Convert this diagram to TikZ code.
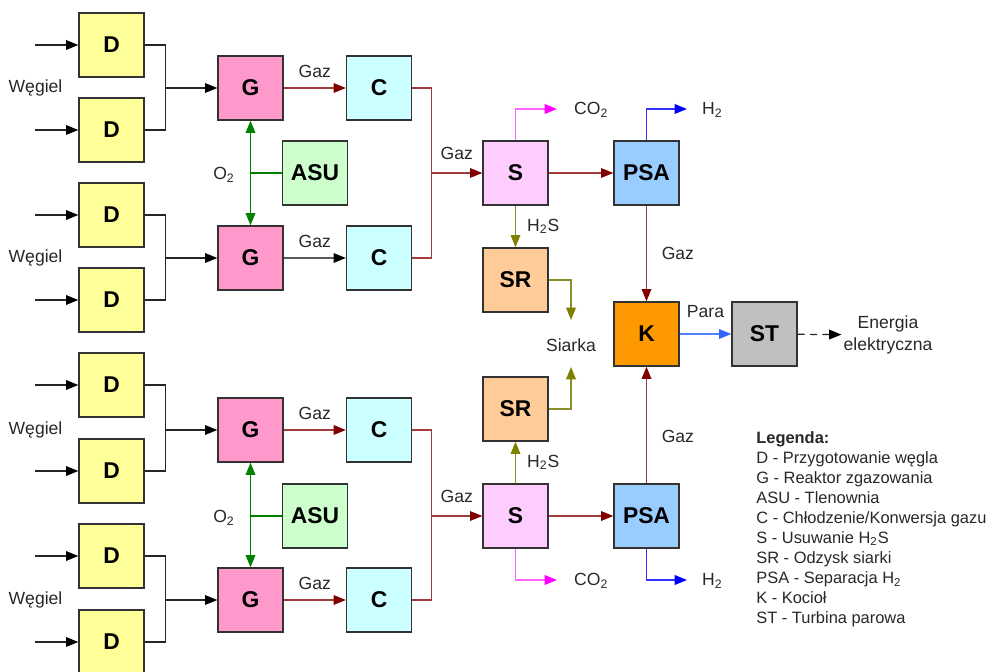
\documentclass[tikz,border=0pt]{standalone}
\usepackage{fontspec}
\setmainfont{Liberation Sans}
\usetikzlibrary{arrows.meta,calc}
\definecolor{dfill}{RGB}{255,255,153}
\definecolor{gfill}{RGB}{255,153,204}
\definecolor{cfill}{RGB}{204,255,255}
\definecolor{afill}{RGB}{204,255,204}
\definecolor{sfill}{RGB}{255,204,255}
\definecolor{rfill}{RGB}{255,204,153}
\definecolor{pfill}{RGB}{153,204,255}
\definecolor{kfill}{RGB}{255,153,0}
\definecolor{tfill}{RGB}{192,192,192}
\definecolor{gazline}{RGB}{160,60,60}
\definecolor{dred}{RGB}{128,0,0}
\definecolor{grn}{RGB}{0,128,0}
\definecolor{magl}{RGB}{255,102,255}
\definecolor{magh}{RGB}{255,0,255}
\definecolor{blul}{RGB}{51,51,255}
\definecolor{bluh}{RGB}{0,0,255}
\definecolor{olvl}{RGB}{140,140,40}
\definecolor{olvh}{RGB}{128,128,0}
\definecolor{parl}{RGB}{80,130,255}
\definecolor{parh}{RGB}{51,102,255}
\definecolor{txt}{RGB}{40,40,40}
\begin{document}
\begin{tikzpicture}[x=0.02cm,y=-0.02cm,
  box/.style={draw=black!80, line width=0.8pt, minimum width=1.3cm, minimum height=1.28cm, inner sep=0pt, font=\fontsize{13}{15}\selectfont\bfseries},
  lbl/.style={font=\fontsize{10}{12}\selectfont, text=txt},
  blkline/.style={draw=black!85, line width=0.7pt},
  blkarr/.style={blkline, -{Triangle[length=7pt,width=5.5pt,color=black]}},
  grayarr/.style={draw=black!65, line width=0.7pt, -{Triangle[length=7pt,width=5.5pt,color=black]}},
  gazl/.style={draw=gazline, line width=0.7pt},
  gazarr/.style={gazl, -{Triangle[length=7pt,width=5.5pt,color=dred]}},
  grnl/.style={draw=grn, line width=0.8pt},
  grnarr/.style={grnl, {Triangle[length=7pt,width=5.5pt,color=grn]}-{Triangle[length=7pt,width=5.5pt,color=grn]}},
  magarr/.style={draw=magl, line width=0.7pt, -{Triangle[length=7pt,width=5.5pt,color=magh]}},
  bluarr/.style={draw=blul, line width=0.7pt, -{Triangle[length=7pt,width=5.5pt,color=bluh]}},
  olvarr/.style={draw=olvl, line width=0.7pt, -{Triangle[length=7pt,width=5.5pt,color=olvh]}},
  pararr/.style={draw=parl, line width=0.7pt, -{Triangle[length=7pt,width=5.5pt,color=parh]}},
  dasharr/.style={draw=black!85, line width=0.7pt, dash pattern=on 4pt off 3pt, -{Triangle[length=7pt,width=5.5pt,color=black]}}
]
\useasboundingbox (0,0) rectangle (990,672);
\clip (0,0) rectangle (990,672);
\fill[white] (0,0) rectangle (990,672);

% D boxes with coal inputs
\foreach \i/\y in {1/45,2/130,3/215,4/300,5/385,6/471,7/556,8/642}{
  \node[box, fill=dfill] (d\i) at (111.5,\y) {D};
  \draw[blkarr] ([xshift=-0.86cm]d\i.west) -- (d\i.west);
}
% G, C, ASU boxes
\foreach \i/\y in {1/88,2/258,3/430,4/600}{
  \node[box, fill=gfill] (g\i) at (250.5,\y) {G};
  \node[box, fill=cfill] (c\i) at (379,\y) {C};
}
\foreach \i/\y in {1/173,2/516}{
  \node[box, fill=afill] (a\i) at (315,\y) {ASU};
  \node[box, fill=sfill] (s\i) at (515.5,\y) {S};
  \node[box, fill=pfill] (p\i) at (646.5,\y) {PSA};
}
\node[box, fill=rfill] (r1) at (515.5,280) {SR};
\node[box, fill=rfill] (r2) at (515.5,409) {SR};
\node[box, fill=kfill] (k) at (646.5,334) {K};
\node[box, fill=tfill] (st) at (764.5,334) {ST};

% Węgiel labels
\foreach \i/\y in {1/88,2/258,3/430,4/600}{
  \node[lbl] (w\i) at (35.5,\y) {Węgiel};
}

% D -> G merges
\foreach \a/\b/\g/\n in {d1/d2/g1/1,d3/d4/g2/2,d5/d6/g3/3,d7/d8/g4/4}{
  \draw[blkline] (\a.east) -- ++(21,0) coordinate (j\n) |- (\b.east);
  \draw[blkarr] (j\n |- \g.west) -- (\g.west);
}

% G -> C
\draw[gazarr] (g1) -- node[lbl, midway, yshift=9.5pt]{Gaz} (c1);
\draw[grayarr] (g2) -- node[lbl, midway, yshift=9.5pt]{Gaz} (c2);
\draw[gazarr] (g3) -- node[lbl, midway, yshift=9.5pt]{Gaz} (c3);
\draw[gazarr] (g4) -- node[lbl, midway, yshift=9.5pt]{Gaz} (c4);

% ASU -> G (O2)
\draw[grnl] (a1.west) -- (a1.west -| g1.south);
\draw[grnarr] (g1.south) -- (g2.north);
\node[lbl] (o1) at (224,175) {O\textsubscript{2}};
\draw[grnl] (a2.west) -- (a2.west -| g3.south);
\draw[grnarr] (g3.south) -- (g4.north);
\node[lbl] (o2) at (224,518) {O\textsubscript{2}};

% C -> S
\draw[gazl] (c1.east) -- ++(19,0) coordinate (m1) |- (c2.east);
\draw[gazarr] (m1 |- s1.west) -- node[lbl, midway, yshift=11pt]{Gaz} (s1.west);
\draw[gazl] (c3.east) -- ++(19,0) coordinate (m2) |- (c4.east);
\draw[gazarr] (m2 |- s2.west) -- node[lbl, midway, yshift=11pt]{Gaz} (s2.west);

% S -> PSA
\draw[gazarr] (s1) -- (p1);
\draw[gazarr] (s2) -- (p2);

% CO2 and H2 outputs
\coordinate (co1) at (557,109);
\coordinate (co2) at (557,580);
\coordinate (h1) at (687,109);
\coordinate (h2) at (687,580);
\draw[magarr] (s1.north) |- (co1);
\draw[magarr] (s2.south) |- (co2);
\draw[bluarr] (p1.north) |- (h1);
\draw[bluarr] (p2.south) |- (h2);
\node[lbl, anchor=west] (tco1) at (568,110) {CO\textsubscript{2}};
\node[lbl, anchor=west] (tco2) at (568,581) {CO\textsubscript{2}};
\node[lbl, anchor=west] (th1) at (696,110) {H\textsubscript{2}};
\node[lbl, anchor=west] (th2) at (696,581) {H\textsubscript{2}};

% H2S
\draw[olvarr] (s1) -- node[lbl, right, xshift=3pt]{H\textsubscript{2}S} (r1);
\draw[olvarr] (s2) -- node[lbl, right, xshift=3pt]{H\textsubscript{2}S} (r2);

% Sulfur
\node[lbl] (siarka) at (571,345) {Siarka};
\coordinate (sa1) at (571,320);
\coordinate (sa2) at (571,367);
\draw[olvarr] (r1.east) -| (sa1);
\draw[olvarr] (r2.east) -| (sa2);

% PSA -> K
\draw[gazarr] (p1) -- node[lbl, right, xshift=5pt]{Gaz} (k);
\draw[gazarr] (p2) -- node[lbl, right, xshift=5pt, pos=0.4]{Gaz} (k);

% K -> ST
\draw[pararr] (k) -- node[lbl, midway, yshift=12.5pt]{Para} (st);

% ST -> energy
\node[lbl, align=center, inner sep=1pt, font=\fontsize{10}{12.5}\selectfont] (en) at (888,335) {Energia\\elektryczna};
\draw[dasharr] (st) -- (en);

% Legend
\node[anchor=north west, align=left, inner sep=0pt, text=txt, font=\fontsize{9.35}{11.4}\selectfont] (leg) at (756,431) {\textbf{Legenda:}\\
D - Przygotowanie węgla\\
G - Reaktor zgazowania\\
ASU - Tlenownia\\
C - Chłodzenie/Konwersja gazu\\
S - Usuwanie H\textsubscript{2}S\\
SR - Odzysk siarki\\
PSA - Separacja H\textsubscript{2}\\
K - Kocioł\\
ST - Turbina parowa};
\end{tikzpicture}
\end{document}
